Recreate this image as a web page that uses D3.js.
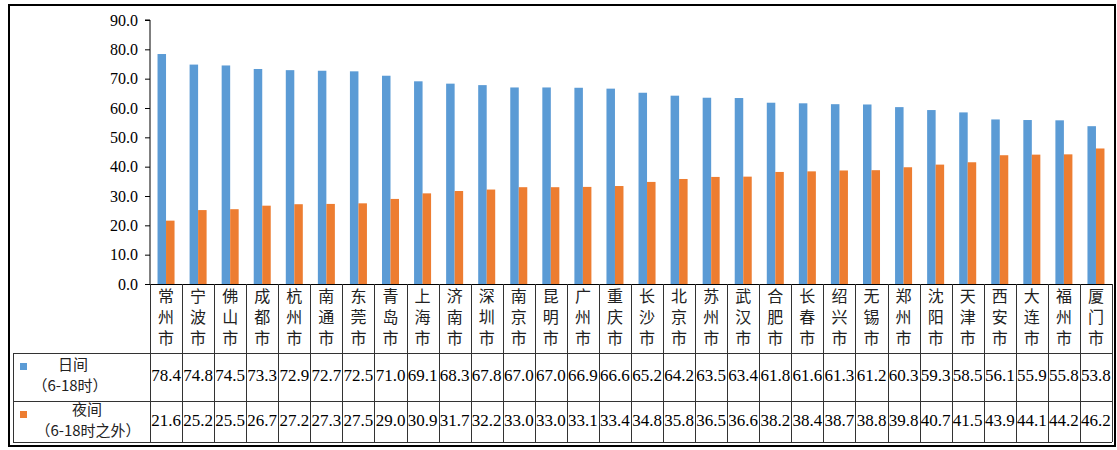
<!DOCTYPE html>
<html>
<head>
<meta charset="utf-8">
<script src="https://cdn.jsdelivr.net/npm/d3@7"></script>
<style>
html,body{margin:0;padding:0;background:#fff;}
svg{display:block;}
.vt{writing-mode:vertical-rl;text-orientation:upright;}
</style>
</head>
<body>
<svg id="chart" width="1117" height="450"></svg>
<script>
const cities = ["常州市","宁波市","佛山市","成都市","杭州市","南通市","东莞市","青岛市","上海市","济南市","深圳市","南京市","昆明市","广州市","重庆市","长沙市","北京市","苏州市","武汉市","合肥市","长春市","绍兴市","无锡市","郑州市","沈阳市","天津市","西安市","大连市","福州市","厦门市"];
const dayValues = [78.4,74.8,74.5,73.3,72.9,72.7,72.5,71.0,69.1,68.3,67.8,67.0,67.0,66.9,66.6,65.2,64.2,63.5,63.4,61.8,61.6,61.3,61.2,60.3,59.3,58.5,56.1,55.9,55.8,53.8];
const nightValues = [21.6,25.2,25.5,26.7,27.2,27.3,27.5,29.0,30.9,31.7,32.2,33.0,33.0,33.1,33.4,34.8,35.8,36.5,36.6,38.2,38.4,38.7,38.8,39.8,40.7,41.5,43.9,44.1,44.2,46.2];
const seriesNames = ["日间","夜间"];
const seriesSub = ["（6-18时）","（6-18时之外）"];
const yTicks = [0,10,20,30,40,50,60,70,80,90];

(function(){
const colors = ["#5B9BD5","#ED7D31"];
const svg = d3.select("#chart");

// frame
svg.append("rect").attr("x",9).attr("y",5).attr("width",1106).attr("height",441)
  .attr("fill","none").attr("stroke","#000").attr("stroke-width",2);

const plotLeft = 150, plotRight = 1112, plotTop = 20, zeroY = 284;
const rowDayTop = 353, rowNightTop = 401, tableBottom = 442, tableLeft = 13;

const x = d3.scaleBand().domain(cities).range([plotLeft, plotRight]).padding(0);
const x1 = d3.scaleBand().domain(seriesNames).range([0, x.bandwidth()]).paddingInner(0).paddingOuter(0.885);
const y = d3.scaleLinear().domain([0,90]).range([zeroY, plotTop]);

const series = [dayValues, nightValues];

// bars
seriesNames.forEach((s, si) => {
  svg.append("g").selectAll("rect").data(cities).join("rect")
    .attr("x", d => x(d) + x1(s))
    .attr("width", x1.bandwidth())
    .attr("y", (d,i) => y(series[si][i]))
    .attr("height", (d,i) => zeroY - y(series[si][i]))
    .attr("fill", colors[si]);
});

// y axis
const yAxis = d3.axisLeft(y).tickValues(yTicks).tickFormat(d3.format(".1f")).tickSize(5).tickPadding(7);
const ga = svg.append("g").attr("transform", `translate(${plotLeft},0)`).call(yAxis);
ga.select(".domain").attr("stroke","#000").attr("d", `M-5,${y(90)}H0V${zeroY}`);
ga.selectAll(".tick line").attr("stroke","#000");
ga.selectAll(".tick text").attr("font-family","'Liberation Serif','Times New Roman',serif")
  .attr("font-size","16px").attr("fill","#000");

// table lines
const lineColor = "#333";
const tg = svg.append("g").attr("stroke", lineColor).attr("stroke-width",1).attr("shape-rendering","crispEdges");
tg.append("line").attr("x1",plotLeft).attr("x2",plotRight).attr("y1",zeroY+0.5).attr("y2",zeroY+0.5).attr("stroke","#000");
[rowDayTop, rowNightTop, tableBottom].forEach(yy => {
  tg.append("line").attr("x1",tableLeft).attr("x2",plotRight).attr("y1",yy+0.5).attr("y2",yy+0.5);
});
tg.append("line").attr("x1",tableLeft+0.5).attr("x2",tableLeft+0.5).attr("y1",rowDayTop).attr("y2",tableBottom);
const bounds = cities.map(c => x(c)).concat([plotRight]);
bounds.forEach(bx => {
  const xx = Math.round(bx)+0.5;
  tg.append("line").attr("x1",xx).attr("x2",xx).attr("y1",zeroY).attr("y2",tableBottom);
});

// city labels, vertical writing (one text element per city)
const cg = svg.append("g").attr("font-family","'Noto Sans CJK SC',sans-serif").attr("font-size","16px")
  .attr("fill","#222");
cities.forEach(c => {
  const cx = x(c) + x.bandwidth()/2;
  cg.append("text").attr("class","vt").attr("x", cx).attr("y", 288)
    .style("letter-spacing","5px").text(c);
});

// values rows
const vg = svg.append("g").attr("font-family","'Liberation Serif','Times New Roman',serif").attr("font-size","17px")
  .attr("fill","#000").attr("text-anchor","middle");
series.forEach((vals, si) => {
  const cy = si === 0 ? 377 : 422;
  vals.forEach((v,i) => {
    vg.append("text").attr("x", x(cities[i]) + x.bandwidth()/2).attr("y", cy)
      .attr("dominant-baseline","middle").text(d3.format(".1f")(v));
  });
});

// legend header cells
const lg = svg.append("g").attr("font-family","'Noto Sans CJK SC',sans-serif").attr("fill","#222");
const legendRows = [
  {sq: 363, t1x: 73, t2x: 70, ty: 370},
  {sq: 411, t1x: 87, t2x: 88, ty: 415}
];
seriesNames.forEach((s, si) => {
  const r = legendRows[si];
  lg.append("rect").attr("x",20).attr("y",r.sq).attr("width",7).attr("height",7).attr("fill",colors[si]);
  const t = lg.append("text").attr("y", r.ty).attr("text-anchor","middle").attr("font-size","15px");
  t.append("tspan").attr("x", r.t1x).attr("dy",0).text(s);
  t.append("tspan").attr("x", r.t2x).attr("dy",21).text(seriesSub[si]);
});
})();
</script>
</body>
</html>
